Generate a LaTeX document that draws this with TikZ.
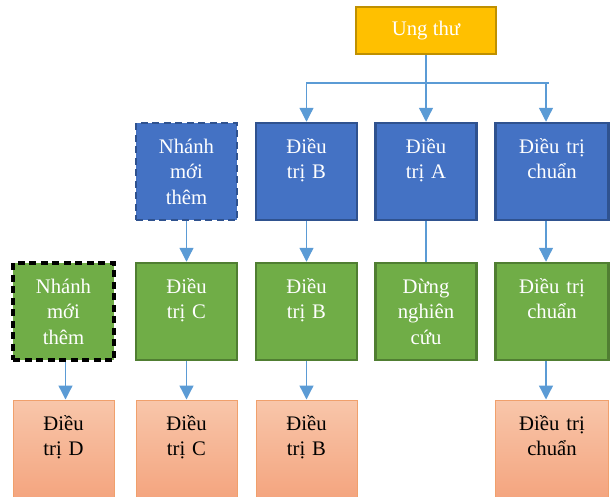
\documentclass[tikz,border=0pt]{standalone}
\usepackage{fontspec}
\setmainfont{Liberation Serif}
\usetikzlibrary{arrows.meta}
\definecolor{vang}{HTML}{FFC000}
\definecolor{vangD}{HTML}{BF9000}
\definecolor{xanh}{HTML}{4472C4}
\definecolor{xanhD}{HTML}{2F528F}
\definecolor{luc}{HTML}{70AD47}
\definecolor{lucD}{HTML}{507E32}
\definecolor{camT}{HTML}{F8C6AA}
\definecolor{camB}{HTML}{F4A47E}
\definecolor{camD}{HTML}{F0A06C}
\definecolor{noiC}{HTML}{5B9BD5}

\begin{document}
\begin{tikzpicture}[x=1pt, y=-1pt,
		hop/.style={text width=97pt, minimum width=101pt, inner sep=0pt, align=center,
			text height=30pt, text depth=67pt, font=\fontsize{20.7}{25.7}\selectfont},
		xanhbox/.style={hop, fill=xanh, draw=xanhD, line width=2.5pt, text=white},
		lucbox/.style={hop, fill=luc, draw=lucD, line width=2.5pt, text=white},
		cambox/.style={hop, text depth=70pt, top color=camT, bottom color=camB, draw=camD, line width=1pt},
		moi/.style={dash pattern=on 7pt off 4.5pt},
		noi/.style={draw=noiC, line width=1.3pt},
		mui/.style={noi, -{Triangle[length=14pt,width=14pt]}}]
		\useasboundingbox (0,0) rectangle (612,496);
		\clip (0,0) rectangle (612,496);

		\node (U) at (426, 30.5) [fill=vang, draw=vangD, line width=2.5pt, minimum width=140pt,
			minimum height=47pt, text=white, font=\fontsize{20.7}{24}\selectfont] {Ung thư};
		\coordinate (T) at (426, 83);

		\node (N1) at (186.5, 171.5) [xanhbox, line width=2.8pt, moi] {Nhánh\\mới\\thêm};
		\node (B1) at (306.5, 171.5) [xanhbox] {Điều\\trị B};
		\node (A1) at (426, 171.5)   [xanhbox] {Điều\\trị A};
		\node (Q1) at (552, 171.5)   [xanhbox, minimum width=113pt] {Điều trị\\chuẩn};

		\node (N2) at (63.5, 311.5)  [lucbox, draw=black, line width=3.2pt, moi] {Nhánh\\mới\\thêm};
		\node (C2) at (186.5, 311.5) [lucbox] {Điều\\trị C};
		\node (B2) at (306.5, 311.5) [lucbox] {Điều\\trị B};
		\node (S2) at (426, 311.5)   [lucbox] {Dừng\\nghiên\\cứu};
		\node (Q2) at (552, 311.5)   [lucbox, minimum width=113pt] {Điều trị\\chuẩn};

		\node (D3) at (63.5, 450)  [cambox] {Điều\\trị D};
		\node (C3) at (186.5, 450) [cambox] {Điều\\trị C};
		\node (B3) at (306.5, 450) [cambox] {Điều\\trị B};
		\node (Q3) at (552, 450)   [cambox, minimum width=113pt] {Điều trị\\chuẩn};

		\draw[noi] (U) -- (T);
		\draw[noi] (T) -- ++(123,0);
		\draw[mui] (T) -| (B1);
		\draw[mui] (T) -- (A1);
		\draw[mui] (T) -| ([xshift=-6pt]Q1.north);

		\draw[mui] (N1) -- (C2);
		\draw[mui] (B1) -- (B2);
		\draw[noi] (A1) -- (S2);
		\draw[mui] ([xshift=-6pt]Q1.south) -- ([xshift=-6pt]Q2.north);

		\draw[mui] ([xshift=2pt]N2.south) -- ([xshift=2pt]D3.north);
		\draw[mui] (C2) -- (C3);
		\draw[mui] (B2) -- (B3);
		\draw[mui] ([xshift=-6pt]Q2.south) -- ([xshift=-6pt]Q3.north);
	\end{tikzpicture}
\end{document}
